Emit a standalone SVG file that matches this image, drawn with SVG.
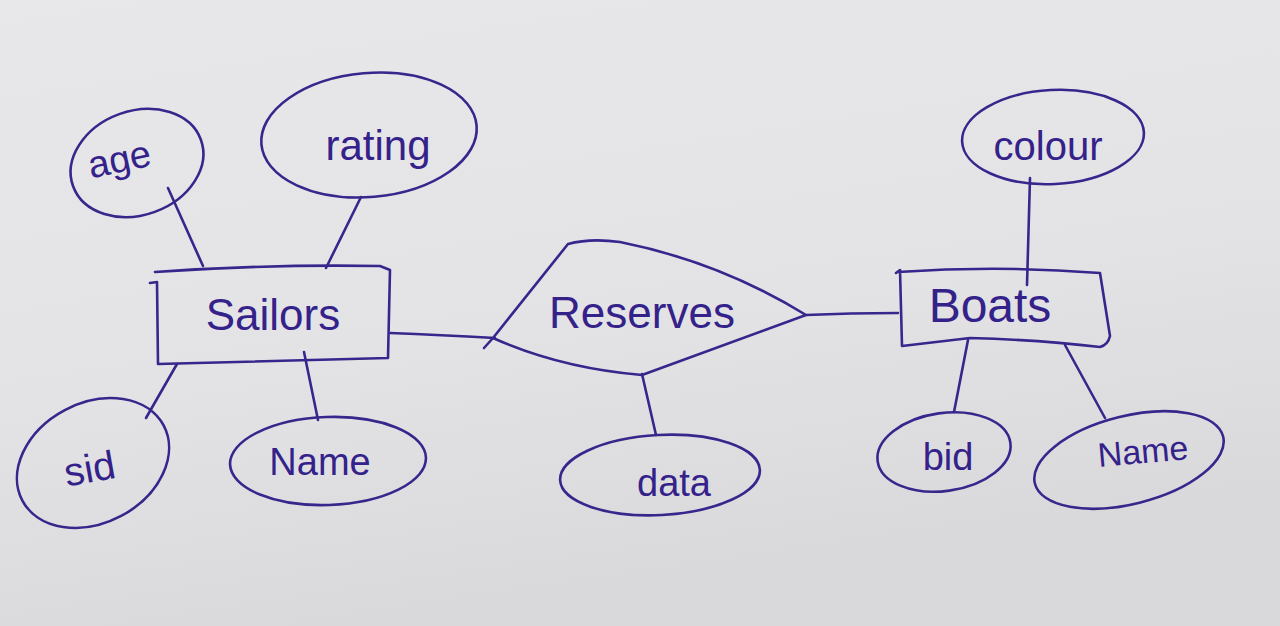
<svg xmlns="http://www.w3.org/2000/svg" width="1280" height="626" viewBox="0 0 1280 626">
<defs>
<linearGradient id="bg" x1="0" y1="0" x2="0.3" y2="1">
<stop offset="0" stop-color="#e8e8ea"/>
<stop offset="0.6" stop-color="#e3e3e6"/>
<stop offset="1" stop-color="#d9d9dc"/>
</linearGradient>
<style>
.ink{fill:none;stroke:#38268c;stroke-width:2.6;stroke-linecap:round;stroke-linejoin:round}
.t{fill:#34228a;font-family:"Liberation Sans","DejaVu Sans",sans-serif;text-anchor:middle}
.big{font-size:44px}
.mid{font-size:38px}
</style>
</defs>
<rect width="1280" height="626" fill="url(#bg)"/>

<g id="connectors">
<path class="ink" d="M168 188 L203 266"/>
<path class="ink" d="M361 197 L326 268"/>
<path class="ink" d="M177 364 L146 418"/>
<path class="ink" d="M304 352 L318 420"/>
<path class="ink" d="M390 333 Q440 335 495 338"/>
<path class="ink" d="M642 374 L656 435"/>
<path class="ink" d="M806 315 Q850 313 898 313"/>
<path class="ink" d="M1030 178 L1027 285"/>
<path class="ink" d="M968 340 L954 412"/>
<path class="ink" d="M1065 345 L1105 418"/>
</g>

<g id="age">
<ellipse class="ink" cx="137" cy="163" rx="68" ry="52" transform="rotate(-20 137 163)"/>
<text class="t mid" x="122" y="172" transform="rotate(-12 122 172)">age</text>
</g>

<g id="rating">
<ellipse class="ink" cx="369" cy="135" rx="108" ry="62" transform="rotate(-5 369 135)"/>
<text class="t mid" style="font-size:42px" x="378" y="160">rating</text>
</g>

<g id="sailors">
<path class="ink" d="M150 283 L157 282 L158 364 L388 358 L390 270 L380 266 Q270 264 155 272"/>
<text class="t big" x="273" y="330">Sailors</text>
</g>

<g id="sid">
<ellipse class="ink" cx="93" cy="463" rx="80" ry="60" transform="rotate(-28 93 463)"/>
<text class="t mid" style="font-size:40px" x="92" y="482" transform="rotate(-10 92 482)">sid</text>
</g>

<g id="name_s">
<ellipse class="ink" cx="328" cy="461" rx="98" ry="44" transform="rotate(-2 328 461)"/>
<text class="t mid" x="320" y="475">Name</text>
</g>

<g id="reserves">
<path class="ink" d="M484 348 L493 338 L568 244 Q590 238 620 242 Q720 262 806 315 Q725 345 642 375 Q560 368 493 338"/>
<text class="t big" x="642" y="328">Reserves</text>
</g>

<g id="data">
<ellipse class="ink" cx="660" cy="475" rx="100" ry="40" transform="rotate(-3 660 475)"/>
<text class="t mid" x="674" y="496">data</text>
</g>

<g id="boats">
<path class="ink" d="M896 273 L900 270 L902 346 L970 338 Q1040 340 1100 347 Q1108 345 1110 336 L1100 273 Q1000 265 898 272"/>
<text class="t" style="font-size:48px" x="990" y="322">Boats</text>
</g>

<g id="colour">
<ellipse class="ink" cx="1053" cy="137" rx="91" ry="47" transform="rotate(-3 1053 137)"/>
<text class="t mid" style="font-size:40px" x="1048" y="160">colour</text>
</g>

<g id="bid">
<ellipse class="ink" cx="944" cy="452" rx="67" ry="39" transform="rotate(-8 944 452)"/>
<text class="t mid" x="948" y="470">bid</text>
</g>

<g id="name_b">
<ellipse class="ink" cx="1129" cy="460" rx="97" ry="44" transform="rotate(-14 1129 460)"/>
<text class="t" style="font-size:34px" x="1144" y="463" transform="rotate(-5 1144 463)">Name</text>
</g>
</svg>
